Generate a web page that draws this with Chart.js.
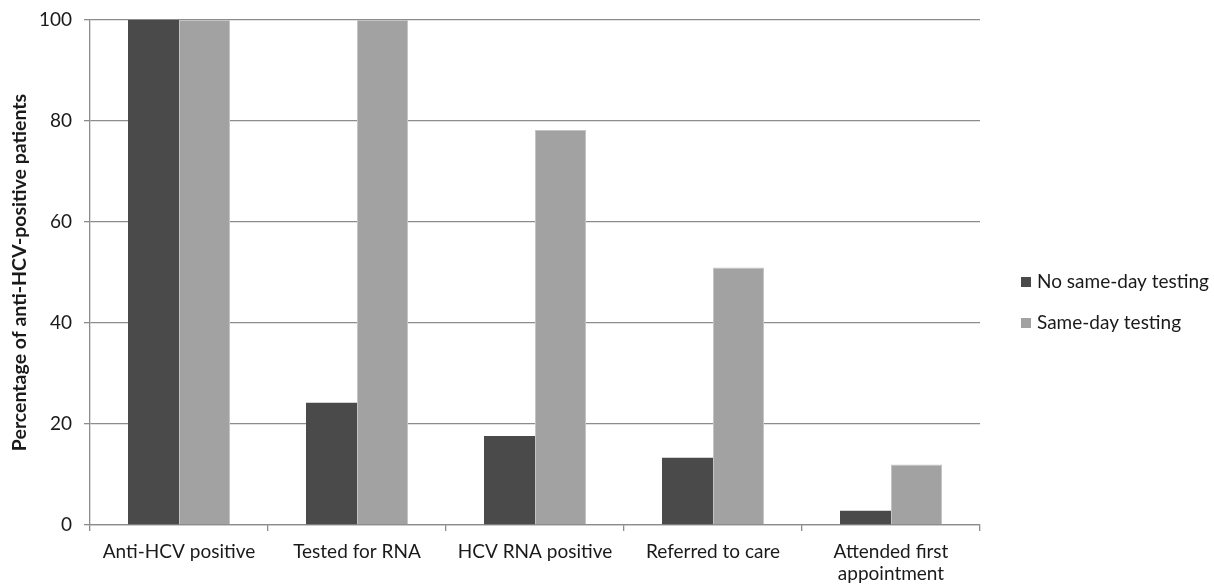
<!DOCTYPE html>
<html>
<head>
<meta charset="utf-8">
<script src="https://cdn.jsdelivr.net/npm/chart.js@4/dist/chart.umd.min.js"></script>
<style>
html,body{margin:0;padding:0;background:#fff;}
#wrap{width:1214px;height:588px;position:relative;}
</style>
</head>
<body>
<div id="wrap"><canvas id="c" width="1214" height="588"></canvas></div>
<script>
const categories = ["Anti-HCV positive", "Tested for RNA", "HCV RNA positive", "Referred to care", ["Attended first", "appointment"]];
const noSameDay = [100, 24.2, 17.6, 13.3, 2.8];
const sameDay = [100, 100, 78.2, 51.0, 12.0];
const seriesNames = ["No same-day testing", "Same-day testing"];
const yTicks = [0, 20, 40, 60, 80, 100];

const FONT = "Lato, 'Open Sans', sans-serif";

const legendPlugin = {
  id: 'customLegend',
  afterDraw(chart) {
    const ctx = chart.ctx;
    ctx.save();
    const items = chart.data.datasets;
    const ys = [282, 323];
    items.forEach((ds, i) => {
      ctx.fillStyle = ds.backgroundColor;
      ctx.fillRect(1021, ys[i] - 5, 10, 10);
      ctx.fillStyle = '#1a1a1a';
      ctx.font = "19px " + FONT;
      ctx.textBaseline = 'middle';
      ctx.textAlign = 'left';
      ctx.fillText(ds.label, 1037, ys[i]);
    });
    ctx.restore();
  }
};

new Chart(document.getElementById('c'), {
  type: 'bar',
  data: {
    labels: categories,
    datasets: [
      { label: seriesNames[0], data: noSameDay, backgroundColor: '#4a4a4a', borderColor: '#5a5a5a', borderWidth: 0 },
      { label: seriesNames[1], data: sameDay, backgroundColor: '#a2a2a2', borderColor: '#c4c4c4', borderWidth: 1 }
    ]
  },
  options: {
    responsive: false,
    animation: false,
    devicePixelRatio: 1,
    layout: { autoPadding: false, padding: { left: 8, right: 234, top: 20, bottom: 0 } },
    datasets: { bar: { categoryPercentage: 0.573, barPercentage: 1.0 } },
    plugins: { legend: { display: false }, tooltip: { enabled: false } },
    scales: {
      x: {
        grid: { display: true, drawOnChartArea: false, drawTicks: true, tickLength: 6, offset: true, color: '#8c8c8c', lineWidth: 1.3 },
        border: { display: true, color: '#8c8c8c', width: 1.3 },
        ticks: { color: '#1a1a1a', font: { family: FONT, size: 19, lineHeight: 1.2 }, padding: 9, maxRotation: 0, autoSkip: false },
        afterFit(scale) { scale.height = 63; scale.paddingLeft = 0; scale.paddingRight = 0; }
      },
      y: {
        min: 0, max: 100,
        afterBuildTicks(scale) { scale.ticks = yTicks.map(v => ({ value: v })); },
        grid: { color: '#8c8c8c', lineWidth: 1.3, tickLength: 6, drawTicks: true },
        border: { display: true, color: '#8c8c8c', width: 1.3 },
        ticks: { color: '#1a1a1a', font: { family: FONT, size: 19 }, padding: 12 },
        title: { display: true, text: 'Percentage of anti-HCV-positive patients', color: '#1a1a1a', font: { family: FONT, size: 19.5, weight: 'bold', lineHeight: 1.2 }, padding: { top: 0, bottom: 0 } },
        afterFit(scale) { scale.width = 82; scale.paddingTop = 0; scale.paddingBottom = 0; }
      }
    }
  },
  plugins: [legendPlugin]
});
</script>
</body>
</html>
